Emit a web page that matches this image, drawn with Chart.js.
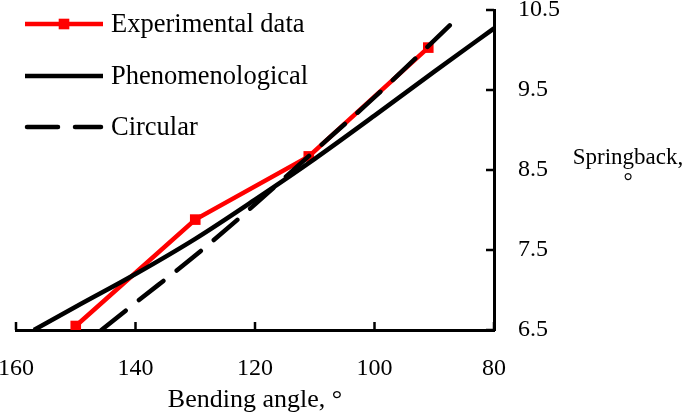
<!DOCTYPE html>
<html>
<head>
<meta charset="utf-8">
<script src="https://cdn.jsdelivr.net/npm/chart.js@4"></script>
<style>
  html, body { margin: 0; padding: 0; background: #fff; }
  #wrap { width: 685px; height: 416px; }
</style>
</head>
<body>
<div id="wrap"><canvas id="springChart" width="685" height="416"></canvas></div>
<script>
// values
const expAngle = [150, 130, 111, 91];
const expSpring = [6.55, 7.88, 8.67, 10.03];
const phenAngle = [157, 150, 140, 130, 120, 110, 100, 90, 80];
const phenSpring = [6.50, 6.79, 7.20, 7.64, 8.13, 8.64, 9.18, 9.73, 10.27];
const circAngle = [145.7, 140, 130, 120, 110, 100, 90, 86];
const circSpring = [6.50, 6.84, 7.43, 8.07, 8.74, 9.41, 10.12, 10.41];
const angleTicks = [160, 140, 120, 100, 80];
const springTicks = [6.5, 7.5, 8.5, 9.5, 10.5];
const seriesNames = ['Experimental data', 'Phenomenological', 'Circular'];
const xTitle = 'Bending angle, \u00b0';
const yTitle = ['Springback,', '\u00b0'];

const SERIF = '"Liberation Serif", "Times New Roman", serif';

function toPoints(xs, ys) {
    return xs.map((v, i) => ({ x: v, y: ys[i] }));
}

// ticks drawn pointing into the plot
const innerTicks = {
    id: 'innerTicks',
    afterDatasetsDraw(chart) {
        const { ctx, scales: { x, y } } = chart;
        ctx.save();
        ctx.strokeStyle = '#000';
        ctx.lineWidth = 2.5;
        ctx.beginPath();
        x.ticks.forEach(t => {
            const px = x.getPixelForValue(t.value);
            ctx.moveTo(px, x.top);
            ctx.lineTo(px, x.top - 8);
        });
        y.ticks.forEach(t => {
            const py = y.getPixelForValue(t.value);
            ctx.moveTo(y.left, py);
            ctx.lineTo(y.left - 8, py);
        });
        ctx.stroke();
        ctx.restore();
    }
};

// legend in the top-left corner of the plot
const cornerLegend = {
    id: 'cornerLegend',
    afterDraw(chart) {
        const ctx = chart.ctx;
        const x0 = 27, x1 = 101, textX = 111;
        const rows = [24, 76, 127];
        ctx.save();
        chart.data.datasets.forEach((ds, i) => {
            const yy = rows[i];
            ctx.strokeStyle = ds.borderColor;
            ctx.lineWidth = ds.borderWidth;
            ctx.lineCap = ds.borderCapStyle || 'butt';
            ctx.setLineDash(ds.borderDash || []);
            ctx.beginPath();
            ctx.moveTo(x0 - (ds.borderDash ? 0 : 2), yy);
            ctx.lineTo(x1 + (ds.borderDash ? 0 : 2), yy);
            ctx.stroke();
            ctx.setLineDash([]);
            if (ds.pointRadius > 0) {
                const s = ds.pointRadius * Math.SQRT1_2;
                ctx.fillStyle = ds.pointBackgroundColor;
                ctx.fillRect((x0 + x1) / 2 - s, yy - s, 2 * s, 2 * s);
            }
            ctx.fillStyle = '#000';
            ctx.font = '26.5px ' + SERIF;
            ctx.textAlign = 'left';
            ctx.textBaseline = 'middle';
            ctx.fillText(ds.label, textX, yy + 1);
        });
        ctx.restore();
    }
};

// horizontal y-axis title to the right of the tick labels
const sideTitle = {
    id: 'sideTitle',
    afterDraw(chart) {
        const ctx = chart.ctx;
        ctx.save();
        ctx.fillStyle = '#000';
        ctx.font = '23px ' + SERIF;
        ctx.textAlign = 'center';
        ctx.textBaseline = 'middle';
        ctx.fillText(yTitle[0], 628, 158);
        ctx.fillText(yTitle[1], 628, 183);
        ctx.restore();
    }
};

const ctx = document.getElementById('springChart').getContext('2d');
new Chart(ctx, {
    type: 'line',
    data: {
        datasets: [{
            label: seriesNames[0],
            data: toPoints(expAngle, expSpring),
            borderColor: '#ff0000',
            backgroundColor: '#ff0000',
            pointBackgroundColor: '#ff0000',
            pointBorderWidth: 0,
            borderWidth: 4.5,
            pointStyle: 'rect',
            pointRadius: 7.5,
            tension: 0,
            order: 3
        }, {
            label: seriesNames[1],
            data: toPoints(phenAngle, phenSpring),
            borderColor: '#000000',
            borderWidth: 4.5,
            pointRadius: 0,
            cubicInterpolationMode: 'monotone',
            order: 2
        }, {
            label: seriesNames[2],
            data: toPoints(circAngle, circSpring),
            borderColor: '#000000',
            borderWidth: 4.5,
            borderDash: [31, 17],
            borderCapStyle: 'round',
            pointRadius: 0,
            cubicInterpolationMode: 'monotone',
            order: 1
        }]
    },
    options: {
        responsive: false,
        animation: false,
        layout: { padding: { left: 16, top: 10, right: 0, bottom: 0 } },
        plugins: {
            legend: { display: false },
            tooltip: { enabled: false }
        },
        scales: {
            x: {
                type: 'linear',
                reverse: true,
                min: 80,
                max: 160,
                afterBuildTicks: scale => { scale.ticks = angleTicks.map(v => ({ value: v })); },
                afterFit: scale => {
                    scale.height = 86;
                    scale.paddingLeft = 0;
                    scale.paddingRight = 0;
                },
                grid: { drawOnChartArea: false, drawTicks: false },
                border: { display: true, color: '#000', width: 3 },
                ticks: {
                    color: '#000',
                    padding: 24,
                    maxRotation: 0,
                    font: { family: SERIF, size: 24 }
                },
                title: {
                    display: true,
                    text: xTitle,
                    color: '#000',
                    padding: { top: 8, bottom: 0 },
                    font: { family: SERIF, size: 26 }
                }
            },
            y: {
                type: 'linear',
                position: 'right',
                min: 6.5,
                max: 10.5,
                afterBuildTicks: scale => { scale.ticks = springTicks.map(v => ({ value: v })); },
                afterFit: scale => {
                    scale.width = 191;
                    scale.paddingTop = 0;
                    scale.paddingBottom = 0;
                },
                grid: { drawOnChartArea: false, drawTicks: false },
                border: { display: true, color: '#000', width: 3 },
                ticks: {
                    color: '#000',
                    padding: 24,
                    font: { family: SERIF, size: 24 },
                    callback: v => Number(v).toFixed(1)
                }
            }
        }
    },
    plugins: [innerTicks, cornerLegend, sideTitle]
});
</script>
</body>
</html>
